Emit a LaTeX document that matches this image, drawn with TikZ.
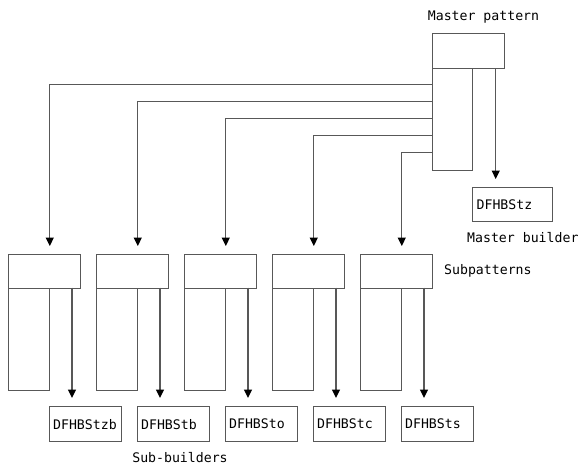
\documentclass[tikz,border=0pt]{standalone}
\usepackage{fontspec}
\setmonofont{DejaVu Sans Mono}
\usetikzlibrary{arrows.meta,positioning}
\definecolor{linegray}{HTML}{585858}
\tikzset{
  box/.style={draw=linegray, line width=1.3pt, rectangle, inner sep=0pt, anchor=north west},
  hdr/.style={box, minimum width=72.5pt, minimum height=33.5pt},
  col/.style={box, minimum width=41pt, minimum height=102.3pt},
  bld/.style={box, minimum width=72.5pt, minimum height=35pt, text width=64.5pt,
              inner xsep=4pt, align=left, font=\ttfamily\fontsize{13.2}{15}\selectfont},
  lbl/.style={font=\ttfamily\fontsize{13.2}{15}\selectfont, inner sep=0pt},
  arr/.style={draw=linegray, line width=1.3pt, -{Triangle[width=8pt,length=8.5pt,black]}, shorten >=8pt},
}
\begin{document}
\begin{tikzpicture}[x=1pt, y=-1pt]
\useasboundingbox (0,0) rectangle (582,466);

% master pattern with its builder
\node[box, minimum width=72pt, minimum height=35pt] (mhdr) at (432,33) {};
\node[box, minimum width=40pt, minimum height=102pt] (mcol) at (432,68) {};
\node[lbl] (mlabel) at (483.5,17) {Master pattern};
\node[bld, minimum width=80pt, text width=72pt, minimum height=34pt] (mb) at (472,187) {DFHBStz};
\node[lbl, anchor=west] (mblabel) at (467,238) {Master builder};
\coordinate (mout) at (495.7,68);
\draw[arr] (mout) -- (mout |- mb.north);

% subpatterns, each with its sub-builder
\foreach \i/\name in {1/DFHBStzb,2/DFHBStb,3/DFHBSto,4/DFHBStc,5/DFHBSts}{
  \pgfmathsetmacro{\lx}{7.5+88*(\i-1)}
  \node[hdr] (s\i) at (\lx,254) {};
  \node[col] (c\i) at (\lx,287.7) {};
  \node[bld] (b\i) at (\lx+41,406) {\name};
  \coordinate (a\i) at (\lx+64.5,287.7);
  \draw[arr] (a\i) -- (a\i |- b\i.north);
}

% links from the master pattern down to each subpattern
\foreach \i/\y in {1/84.5,2/101.5,3/118.5,4/135.5,5/152.5}{
  \coordinate (m\i) at (432,\y);
  \draw[arr] (m\i) -| (c\i.east |- s\i.north);
}

\node[lbl, anchor=west] (splabel) at (444,271) {Subpatterns};
\node[lbl] (sblabel) at (180,458) {Sub-builders};
\end{tikzpicture}
\end{document}
